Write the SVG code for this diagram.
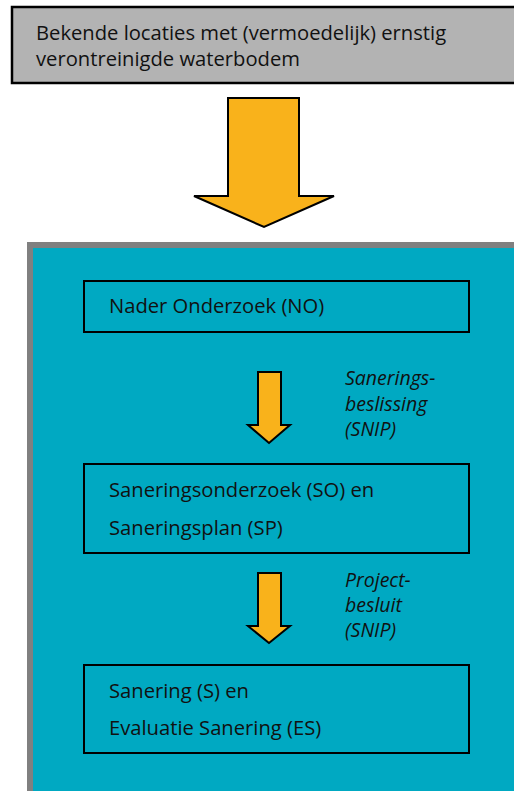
<svg xmlns="http://www.w3.org/2000/svg" width="514" height="791" viewBox="0 0 514 791">
<style>
.t{font-family:"Open Sans","DejaVu Sans",sans-serif;font-size:20.2px;fill:#111}
.i{font-family:"Open Sans","DejaVu Sans",sans-serif;font-size:19.5px;font-style:italic;fill:#111}
.box{fill:none;stroke:#000;stroke-width:2}
.arrow{fill:#f9b21b;stroke:#000;stroke-width:2;stroke-linejoin:miter}
</style>
<g id="top">
<rect x="12" y="7" width="510" height="76" fill="#b3b3b3" stroke="#000" stroke-width="2.5"/>
<text class="t" x="36" y="40">Bekende locaties met (vermoedelijk) ernstig</text>
<text class="t" x="36" y="66">verontreinigde waterbodem</text>
</g>
<g id="bigarrow">
<polygon class="arrow" points="228,98 299,98 299,196 334,196 264,227 194,196 228,196"/>
</g>
<g id="panel">
<rect x="30" y="245" width="490" height="550" fill="#00a9c2" stroke="#808080" stroke-width="6"/>
</g>
<g id="no">
<rect class="box" x="84" y="281" width="385" height="51"/>
<text class="t" x="109" y="313">Nader Onderzoek (NO)</text>
</g>
<g id="connectors">
<polygon class="arrow" points="258,372 281,372 281,425 290,425 269,443 248,425 258,425"/>
<polygon class="arrow" points="258,573 281,573 281,626 290,626 269,643 248,626 258,626"/>
</g>
<g id="lbl1">
<text class="i" x="345" y="385">Sanerings-</text>
<text class="i" x="345" y="411">beslissing</text>
<text class="i" x="345" y="436">(SNIP)</text>
</g>
<g id="so">
<rect class="box" x="84" y="464" width="385" height="89"/>
<text class="t" x="109" y="497">Saneringsonderzoek (SO) en</text>
<text class="t" x="109" y="535">Saneringsplan (SP)</text>
</g>
<g id="lbl2">
<text class="i" x="345" y="587">Project-</text>
<text class="i" x="345" y="612">besluit</text>
<text class="i" x="345" y="637">(SNIP)</text>
</g>
<g id="s">
<rect class="box" x="84" y="665" width="385" height="88"/>
<text class="t" x="109" y="698">Sanering (S) en</text>
<text class="t" x="109" y="735">Evaluatie Sanering (ES)</text>
</g>
</svg>
